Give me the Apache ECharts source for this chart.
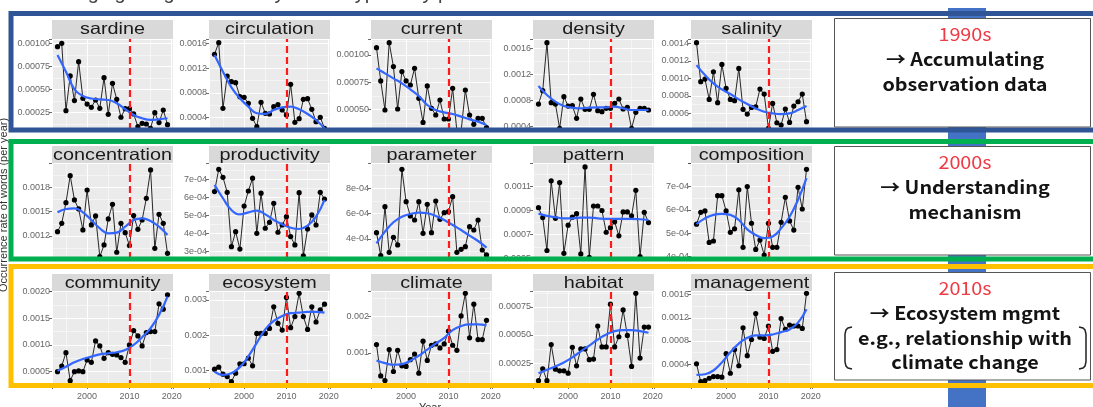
<!DOCTYPE html>
<html><head><meta charset="utf-8">
<script src="https://cdn.jsdelivr.net/npm/echarts@6/dist/echarts.min.js"></script>
<style>html,body{margin:0;padding:0;background:#fff}#c{width:1093px;height:407px}</style>
</head><body><div id="c"></div>
<script>
// ---------------- data ----------------
const years = [1993,1994,1995,1996,1997,1998,1999,2000,2001,2002,2003,2004,2005,2006,2007,2008,2009,2010,2011,2012,2013,2014,2015,2016,2017,2018,2019];
const smoothYears = [1993,1995,1997,1999,2001,2003,2005,2007,2009,2011,2013,2015,2017,2019];
const panelNames = ['sardine','circulation','current','density','salinity','concentration','productivity','parameter','pattern','composition','community','ecosystem','climate','habitat','management'];

const sardine = [0.000964,0.001,0.000268,0.000645,0.000377,0.000801,0.000402,0.00034,0.000304,0.000384,0.000293,0.000627,0.000228,0.000565,0.000391,0.000196,0.00029,0.00029,0.000232,0.000094,0.00013,0.000123,0.000076,0.000246,0.000138,0.000275,0.000116];
const sardineSmooth = [0.000873,0.000692,0.0005,0.000428,0.0004,0.00039,0.000384,0.000348,0.000283,0.000221,0.000185,0.000167,0.000174,0.000185];
const circulation = [0.001422,0.001611,0.00055,0.001072,0.000981,0.000965,0.000739,0.000728,0.000631,0.000389,0.000254,0.000647,0.00047,0.000459,0.000577,0.00061,0.000523,0.000443,0.000938,0.000324,0.000383,0.000696,0.000706,0.000534,0.000335,0.000405,0.000227];
const circulationSmooth = [0.00141,0.001142,0.00089,0.000712,0.000577,0.00047,0.000459,0.000523,0.000566,0.000577,0.000534,0.000459,0.000362,0.000227];
const current = [0.001067,0.000761,0.000494,0.001113,0.000893,0.000503,0.000847,0.000761,0.000724,0.000877,0.000601,0.00038,0.000715,0.000509,0.000448,0.000586,0.000411,0.000411,0.000693,0.0003,0.0003,0.000678,0.000448,0.000362,0.000417,0.000417,0.000331];
const currentSmooth = [0.000877,0.000831,0.000785,0.000739,0.000684,0.000623,0.00054,0.000494,0.000472,0.000457,0.000433,0.000408,0.000387,0.000356];
const density = [0.00074,0.000946,0.001688,0.000761,0.00074,0.000364,0.000854,0.000709,0.000715,0.000519,0.000818,0.000658,0.000658,0.00089,0.000637,0.000622,0.000673,0.000673,0.000751,0.000818,0.000663,0.000689,0.000364,0.000612,0.000673,0.000673,0.000648];
const densitySmooth = [0.001018,0.000879,0.000776,0.000709,0.000684,0.000673,0.000684,0.000689,0.000689,0.000699,0.000673,0.000648,0.000648,0.000648];
const salinity = [0.001408,0.000962,0.000992,0.00076,0.001076,0.000722,0.00116,0.000886,0.00076,0.000745,0.001114,0.000646,0.000592,0.000668,0.000676,0.000878,0.000821,0.000428,0.000714,0.000493,0.000467,0.000649,0.000497,0.000684,0.000733,0.000821,0.000505];
const salinitySmooth = [0.001152,0.001038,0.000943,0.000874,0.000821,0.00076,0.000707,0.000657,0.000619,0.0006,0.000592,0.0006,0.000638,0.000684];

const concentration = [0.001253,0.001356,0.001611,0.001944,0.001644,0.001533,0.001274,0.001767,0.001336,0.001447,0.000945,0.001089,0.00141,0.00159,0.000999,0.001356,0.001241,0.001081,0.001451,0.001282,0.001397,0.001664,0.002014,0.001048,0.001467,0.001356,0.000986];
const concentrationSmooth = [0.001492,0.001533,0.001541,0.001492,0.001397,0.001294,0.001233,0.001241,0.001315,0.001397,0.001418,0.001385,0.001315,0.001212];
const productivity = [6.32e-4,7.55e-4,7.11e-4,6.28e-4,3.27e-4,4.1e-4,3.14e-4,5.52e-4,6.35e-4,7.06e-4,4.01e-4,6.23e-4,4.29e-4,4.62e-4,5.67e-4,4.07e-4,4.47e-4,4.93e-4,3.83e-4,3.37e-4,6.26e-4,2.77e-4,4.25e-4,5.03e-4,4.47e-4,6.28e-4,5.91e-4];
const productivitySmooth = [6.69e-4,5.95e-4,5.3e-4,5.06e-4,5.17e-4,5.27e-4,5.06e-4,4.75e-4,4.51e-4,4.32e-4,4.25e-4,4.44e-4,4.93e-4,5.86e-4];
const parameter = [4.5e-4,2.68e-4,6.55e-4,2.95e-4,4.13e-4,3.53e-4,9.5e-4,6.95e-4,5.82e-4,5.5e-4,6.95e-4,4.45e-4,6.74e-4,4.5e-4,7e-4,5.55e-4,6.08e-4,6.16e-4,7.34e-4,2.95e-4,3.18e-4,3.39e-4,4.97e-4,4.71e-4,5.5e-4,3.13e-4,2.74e-4];
const parameterSmooth = [3.66e-4,4.58e-4,5.32e-4,5.76e-4,5.97e-4,6.08e-4,6.03e-4,5.82e-4,5.5e-4,5.11e-4,4.71e-4,4.26e-4,3.84e-4,3.32e-4];
const pattern = [0.000922,0.000841,0.00057,0.001143,0.000835,0.001129,0.000547,0.000778,0.000844,0.000873,0.000542,0.001258,0.000513,0.000936,0.000936,0.000899,0.00072,0.000758,0.000806,0.000691,0.000887,0.000887,0.000855,0.001065,0.000519,0.000884,0.0008];
const patternSmooth = [0.000873,0.000855,0.000844,0.000835,0.000835,0.000841,0.000841,0.000835,0.00083,0.00083,0.00083,0.00083,0.000827,0.000821];
const composition = [5.39e-4,5.9e-4,5.96e-4,4.61e-4,4.67e-4,6.61e-4,6.61e-4,5.96e-4,5.04e-4,5.19e-4,6.86e-4,4.4e-4,7e-4,5.43e-4,4.31e-4,4.71e-4,4.07e-4,5.43e-4,4.4e-4,4.4e-4,5.47e-4,6.54e-4,5.53e-4,5.14e-4,6.97e-4,6.04e-4,7.74e-4];
const compositionSmooth = [5.39e-4,5.64e-4,5.79e-4,5.83e-4,5.79e-4,5.57e-4,5.17e-4,4.93e-4,4.79e-4,4.86e-4,5.21e-4,5.71e-4,6.43e-4,7.36e-4];

const community = [0.0005,0.000606,0.000856,0.000331,0.0005,0.000513,0.0005,0.000719,0.000675,0.001075,0.000981,0.00075,0.000856,0.000825,0.000813,0.000763,0.000675,0.001,0.001269,0.001169,0.000981,0.001231,0.00125,0.00125,0.001769,0.001669,0.001938];
const communitySmooth = [0.000519,0.000594,0.000675,0.000738,0.000781,0.000825,0.000844,0.000863,0.000906,0.001,0.001144,0.001313,0.001563,0.001906];
const ecosystem = [0.001038,0.001095,0.000895,0.000829,0.000686,0.000924,0.00119,0.00119,0.001352,0.001133,0.002048,0.002048,0.002048,0.00219,0.0028,0.002333,0.002143,0.003067,0.00221,0.002524,0.003181,0.002524,0.002162,0.0028,0.002371,0.002714,0.002876];
const ecosystemSmooth = [0.000971,0.000876,0.000924,0.001095,0.0014,0.001781,0.002162,0.0024,0.002543,0.00262,0.002638,0.002657,0.002657,0.002638];
const climate = [0.001231,0.00037,0.000241,0.001093,0.000491,0.001074,0.000648,0.00063,0.000815,0.000972,0.000444,0.001324,0.000796,0.001213,0.00125,0.001139,0.00125,0.001602,0.001213,0.001074,0.002019,0.002639,0.001417,0.002343,0.00137,0.00137,0.001898];
const climateSmooth = [0.000796,0.000722,0.000676,0.000694,0.000787,0.000926,0.001093,0.001259,0.001417,0.00163,0.001741,0.001787,0.001787,0.001759];
const habitat = [0.000094,0.000199,0.000094,0.000415,0.000196,0.000181,0.000181,0.00016,0.000391,0.000226,0.000376,0.000376,0.00028,0.000286,0.000579,0.000394,0.000394,0.000774,0.000394,0.000484,0.000723,0.000496,0.00022,0.00087,0.000295,0.00057,0.00057];
const habitatSmooth = [0.00016,0.00019,0.00022,0.000256,0.000301,0.000355,0.000406,0.00046,0.000505,0.000534,0.000543,0.000543,0.000534,0.00052];
const management = [0.000406,0.000098,0.000115,0.000156,0.000185,0.000185,0.000174,0.000581,0.000243,0.000651,0.000372,0.001029,0.000546,0.000826,0.001274,0.000866,0.000843,0.001059,0.000622,0.000651,0.001187,0.001,0.001076,0.001059,0.001059,0.001018,0.001623];
const managementSmooth = [0.000214,0.000226,0.00029,0.00043,0.000604,0.000756,0.000855,0.000896,0.000896,0.000913,0.000954,0.001,0.001117,0.00135];

const panelValues = [sardine,circulation,current,density,salinity,concentration,productivity,parameter,pattern,composition,community,ecosystem,climate,habitat,management];
const panelSmooth = [sardineSmooth,circulationSmooth,currentSmooth,densitySmooth,salinitySmooth,concentrationSmooth,productivitySmooth,parameterSmooth,patternSmooth,compositionSmooth,communitySmooth,ecosystemSmooth,climateSmooth,habitatSmooth,managementSmooth];

// visible y range of each (cropped) facet
const yMins = [0.0000576,0.0002,0.00031,0.000339,0.00041, 0.000916,0.000259,0.000242,0.000484,0.00039, 0.000213,0.000533,0.000065,0.0000374,0.000005];
const yMaxs = [0.001047,0.00167,0.001147,0.001744,0.00145, 0.0021,0.00079,0.001,0.00129,0.000801, 0.00201,0.003248,0.002704,0.000891,0.001664];
const yTickValues = [
  [0.00025,0.0005,0.00075,0.001],[0.0004,0.0008,0.0012,0.0016],[0.0005,0.00075,0.001],[0.0004,0.0008,0.0012,0.0016],[0.0006,0.0008,0.001,0.0012,0.0014],
  [0.0012,0.0015,0.0018],[3e-4,4e-4,5e-4,6e-4,7e-4],[4e-4,6e-4,8e-4],[0.0005,0.0007,0.0009,0.0011],[4e-4,5e-4,6e-4,7e-4],
  [0.0005,0.001,0.0015,0.002],[0.001,0.002,0.003],[0.001,0.002],[0.00025,0.0005,0.00075],[0.0004,0.0008,0.0012,0.0016]
];
const yTickLabels = [
  ['0.00025','0.00050','0.00075','0.00100'],['0.0004','0.0008','0.0012','0.0016'],['0.00050','0.00075','0.00100'],['0.0004','0.0008','0.0012','0.0016'],['0.0006','0.0008','0.0010','0.0012','0.0014'],
  ['0.0012','0.0015','0.0018'],['3e-04','4e-04','5e-04','6e-04','7e-04'],['4e-04','6e-04','8e-04'],['0.0005','0.0007','0.0009','0.0011'],['4e-04','5e-04','6e-04','7e-04'],
  ['0.0005','0.0010','0.0015','0.0020'],['0.001','0.002','0.003'],['0.001','0.002'],['0.00025','0.00050','0.00075'],['0.0004','0.0008','0.0012','0.0016']
];
const xTickValues = [2000,2010,2020];
const xTickLabels = ['2000','2010','2020'];
const xMin = 1991.7, xMax = 2020.3;
const markYear = 2010;

const periodLabels = ['1990s','2000s','2010s'];
const periodLines = [['→ Accumulating','observation data'],['→ Understanding','mechanism'],['→ Ecosystem mgmt','e.g., relationship with','climate change']];
const headerText = 'Changing usage rate of keywords: typical by period';
const yTitle = 'Occurrence rate of words (per year)';
const xTitle = 'Year';

// ---------------- layout ----------------
const colLeft = [52, 209, 371, 533, 691];
const panelW = 121;
const stripTop = [20, 146, 274];
const plotTop = [39, 163, 291];
const plotBottom = [130, 259, 387];
const frameColors = ['#2F5597', '#00B050', '#FFC000'];
const frameY = [[13.5, 130], [141.5, 259], [266.5, 385.5]];
const boxY = [[18.5, 127], [146.5, 255], [272.5, 380]];

const grids = [], xAxes = [], yAxes = [], series = [], graphics = [];
const axisFont = 'Liberation Sans';

for (let i = 0; i < 15; i++) {
  const r = Math.floor(i / 5), c = i % 5;
  const ticks = yTickValues[i], labels = yTickLabels[i];
  const interval = +(ticks[1] - ticks[0]).toPrecision(6);
  const aligned = Math.abs(ticks[0] / interval - Math.round(ticks[0] / interval)) < 1e-6;
  grids.push({ left: colLeft[c], top: plotTop[r], width: panelW, height: plotBottom[r] - plotTop[r],
    show: true, backgroundColor: '#EBEBEB', borderWidth: 0, containLabel: false });
  xAxes.push({ type: 'value', gridIndex: i, min: xMin, max: xMax, minInterval: 10, maxInterval: 10, splitNumber: 3,
    axisLine: { show: false },
    axisTick: { show: r === 2, length: 2, lineStyle: { color: '#444', width: 0.8 } },
    axisLabel: { show: r === 2, margin: 5, fontSize: 9, color: '#666', fontFamily: axisFont,
      formatter: v => { const k = xTickValues.findIndex(t => Math.abs(t - v) < 0.01); return k >= 0 ? xTickLabels[k] : ''; } },
    splitLine: { show: true, lineStyle: { color: '#ffffff', width: 1 } },
    minorTick: { show: false, splitNumber: 2 },
    minorSplitLine: { show: true, lineStyle: { color: '#ffffff', width: 0.5 } } });
  const ya = { type: 'value', gridIndex: i, max: yMaxs[i],
    axisLine: { show: false },
    axisTick: { show: true, length: 3, lineStyle: { color: '#444', width: 0.8 } },
    axisLabel: { margin: 2, fontSize: 9, color: '#666', fontFamily: axisFont,
      formatter: v => { const k = ticks.findIndex(t => Math.abs(t - v) < interval * 1e-3); return k >= 0 ? labels[k] : ''; } },
    splitLine: { show: true, lineStyle: { color: '#ffffff', width: 1 } },
    minorTick: { show: false, splitNumber: 2 },
    minorSplitLine: { show: true, lineStyle: { color: '#ffffff', width: 0.5 } } };
  if (aligned) { ya.min = yMins[i]; ya.minInterval = interval; ya.maxInterval = interval; }
  else { ya.min = +(ticks[0] - interval * Math.round((ticks[0] - yMins[i]) / interval)).toPrecision(6); ya.interval = interval; }
  yAxes.push(ya);

  series.push({ type: 'line', xAxisIndex: i, yAxisIndex: i, z: 2,
    data: years.map((y, k) => [y, panelValues[i][k]]),
    symbol: 'circle', symbolSize: 5.2, itemStyle: { color: '#000' },
    lineStyle: { color: '#111', width: 0.9 }, clip: true, silent: true });
  series.push({ type: 'line', xAxisIndex: i, yAxisIndex: i, z: 3,
    data: smoothYears.map((y, k) => [y, panelSmooth[i][k]]),
    smooth: 0.45, showSymbol: false, symbol: 'none', lineStyle: { color: '#3366FF', width: 2.2 }, clip: true, silent: true });
  series.push({ type: 'line', xAxisIndex: i, yAxisIndex: i, z: 4, data: [], silent: true,
    markLine: { symbol: 'none', silent: true, label: { show: false },
      lineStyle: { color: '#FF1A1A', type: [7, 4], width: 2.2 }, data: [{ xAxis: markYear }] } });

  // facet strip
  graphics.push({ type: 'rect', z: 20, shape: { x: colLeft[c], y: stripTop[r], width: panelW, height: plotTop[r] - stripTop[r] },
    style: { fill: '#D9D9D9' } });
  graphics.push({ type: 'text', z: 21, x: colLeft[c] + panelW / 2, y: stripTop[r] + 9, scaleX: 1.2,
    style: { text: panelNames[i], font: '16.5px "Liberation Sans"', fill: '#1A1A1A', textAlign: 'center', textVerticalAlign: 'middle' } });
}

// cropped header and axis titles
graphics.push({ type: 'text', z: 1, x: 40, y: 3, style: { text: headerText, font: '20px "Liberation Sans"', fill: '#444', textAlign: 'left', textVerticalAlign: 'bottom' } });
graphics.push({ type: 'text', z: 1, x: 4, y: 205, rotation: Math.PI / 2, style: { text: yTitle, font: '11px "Liberation Sans"', fill: '#333', textAlign: 'center', textVerticalAlign: 'middle' } });
graphics.push({ type: 'text', z: 1, x: 430, y: 402, style: { text: xTitle, font: '11px "Liberation Sans"', fill: '#333', textAlign: 'center', textVerticalAlign: 'top' } });

// white covers between rows (cropping)
graphics.push({ type: 'rect', z: 40, shape: { x: 14, y: 130, width: 822, height: 11 }, style: { fill: '#fff' } });
graphics.push({ type: 'rect', z: 40, shape: { x: 14, y: 259, width: 822, height: 8 }, style: { fill: '#fff' } });

// connector bar
graphics.push({ type: 'rect', z: 45, shape: { x: 948, y: 8, width: 38, height: 400 }, style: { fill: '#4472C4' } });

// frames
for (let r = 0; r < 3; r++) {
  graphics.push({ type: 'rect', z: 50, shape: { x: 11, y: frameY[r][0], width: 1100, height: frameY[r][1] - frameY[r][0] },
    style: { fill: null, stroke: frameColors[r], lineWidth: 5 } });
}

// text boxes
const boxFont = '"Noto Sans CJK JP", "Noto Sans", sans-serif';
for (let r = 0; r < 3; r++) {
  const y0 = boxY[r][0], y1 = boxY[r][1];
  graphics.push({ type: 'rect', z: 60, shape: { x: 834.5, y: y0, width: 256, height: y1 - y0 },
    style: { fill: '#fff', stroke: '#555', lineWidth: 1 } });
  graphics.push({ type: 'text', z: 61, x: 965, y: y0 + 16, scaleX: 1.1,
    style: { text: periodLabels[r], font: '18px ' + boxFont, fill: '#EE3B45', textAlign: 'center', textVerticalAlign: 'middle' } });
  periodLines[r].forEach((t, k) => {
    graphics.push({ type: 'text', z: 61, x: 965, y: y0 + 40.5 + k * 24.8, scaleX: 1.1,
      style: { text: t, font: 'bold 18px ' + boxFont, fill: '#141414', textAlign: 'center', textVerticalAlign: 'middle' } });
  });
}
// brackets around example text
const bracketL = [[852,327],[848,328],[846,330],[845,334],[845,362],[846,366],[848,368],[852,369]];
const bracketR = [[1079,327],[1083,328],[1085,330],[1086,334],[1086,362],[1085,366],[1083,368],[1079,369]];
graphics.push({ type: 'polyline', z: 62, shape: { points: bracketL }, style: { fill: null, stroke: '#222', lineWidth: 1.5 } });
graphics.push({ type: 'polyline', z: 62, shape: { points: bracketR }, style: { fill: null, stroke: '#222', lineWidth: 1.5 } });

const chart = echarts.init(document.getElementById('c'), null, { renderer: 'canvas' });
chart.setOption({
  animation: false,
  backgroundColor: '#ffffff',
  grid: grids, xAxis: xAxes, yAxis: yAxes, series: series,
  graphic: { elements: graphics }
});
</script>
</body></html>
